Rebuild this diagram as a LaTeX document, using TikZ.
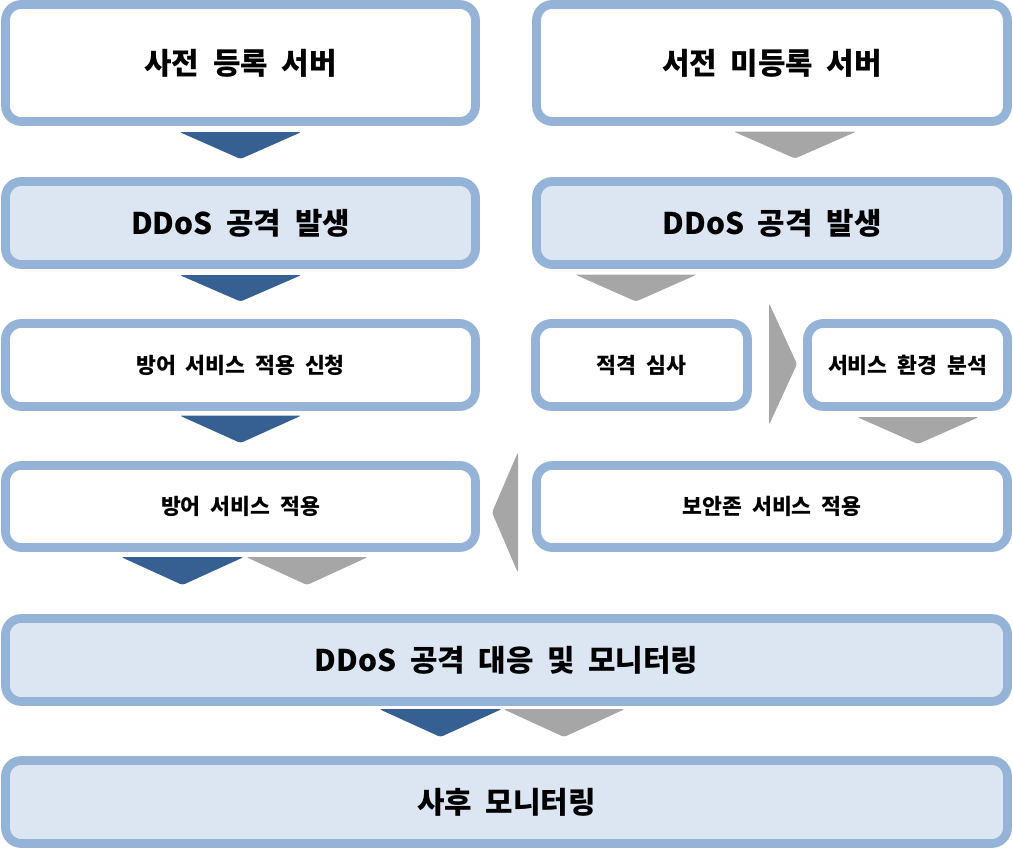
\documentclass[tikz,border=0pt]{standalone}
\usepackage{fontspec}
\setmainfont{Noto Sans CJK KR}[WordSpace=2]
\usepackage{tikz}
\usetikzlibrary{positioning,calc}
\usepackage{xcolor}
\definecolor{boxline}{HTML}{95B3D7}
\definecolor{boxfill}{HTML}{DCE6F2}
\definecolor{arrdark}{HTML}{376092}
\definecolor{arrgray}{HTML}{A6A6A6}

\begin{document}
\begin{tikzpicture}[x=0.02cm, y=-0.02cm, font=\bfseries,
  stepbox/.style={draw=boxline, line width=5pt, rounded corners=9pt, fill=white, outer sep=0pt, inner sep=0pt},
  shadebox/.style={stepbox, fill=boxfill},
  big/.style={font=\bfseries\fontsize{17}{20}\selectfont},
  small/.style={font=\bfseries\fontsize{12.3}{14}\selectfont},
  darkarr/.style={fill=arrdark, rounded corners=1.5pt},
  grayarr/.style={fill=arrgray, rounded corners=1.5pt}]
\useasboundingbox (0,0) rectangle (1013,848);
% left column: registered server
\node[stepbox, big, minimum width=470*0.02cm, minimum height=117*0.02cm] (reg) at (240.5,63) {사전 등록 서버};
\node[shadebox, big, minimum width=470*0.02cm, minimum height=83*0.02cm] (atkL) at (240.5,223) {DDoS 공격 발생};
\node[stepbox, small, minimum width=470*0.02cm, minimum height=83*0.02cm] (applyreq) at (240.5,365) {방어 서비스 적용 신청};
\node[stepbox, small, minimum width=470*0.02cm, minimum height=82*0.02cm] (apply) at (240.5,506.5) {방어 서비스 적용};
% right column: unregistered server
\node[stepbox, big, minimum width=471*0.02cm, minimum height=117*0.02cm] (unreg) at (772,63) {서전 미등록 서버};
\node[shadebox, big, minimum width=471*0.02cm, minimum height=83*0.02cm] (atkR) at (772,223) {DDoS 공격 발생};
\node[stepbox, small, minimum width=212*0.02cm, minimum height=83*0.02cm] (qual) at (641.5,365) {적격 심사};
\node[stepbox, small, minimum width=200*0.02cm, minimum height=83*0.02cm] (env) at (907.5,365) {서비스 환경 분석};
\node[stepbox, small, minimum width=471*0.02cm, minimum height=82*0.02cm] (zone) at (772,506.5) {보안존 서비스 적용};
% common steps
\node[shadebox, big, minimum width=1002*0.02cm, minimum height=83*0.02cm] (resp) at (506.5,660) {DDoS 공격 대응 및 모니터링};
\node[shadebox, big, minimum width=1002*0.02cm, minimum height=83*0.02cm] (post) at (506.5,802) {사후 모니터링};

% chevrons between steps
\fill[darkarr] ($(reg.south)+(-61,10.5)$) -- ++(122,0) -- ++(-61,27) -- cycle;
\fill[grayarr] ($(unreg.south)+(-38.5,10)$) -- ++(123,0) -- ++(-61.5,27) -- cycle;
\fill[darkarr] ($(atkL.south)+(-61,10.5)$) -- ++(122,0) -- ++(-61,26.5) -- cycle;
\fill[grayarr] ($(atkR.south)+(-197,10)$) -- ++(122,0) -- ++(-61,27) -- cycle;
\fill[darkarr] ($(applyreq.south)+(-61,9)$) -- ++(122,0) -- ++(-61,27.5) -- cycle;
\fill[grayarr] ($(qual.east)+(21.5,-62)$) -- ++(0,122) -- ++(28,-61) -- cycle;
\fill[grayarr] ($(env.south)+(-50.5,10.5)$) -- ++(122,0) -- ++(-61,27) -- cycle;
\fill[grayarr] ($(zone.west)+(-18.5,-54.5)$) -- ++(0,121) -- ++(-26,-60.5) -- cycle;
\fill[darkarr] ($(apply.south)+(-119.5,9.5)$) -- ++(123,0) -- ++(-61.5,28) -- cycle;
\fill[grayarr] ($(apply.south)+(5.5,9.5)$) -- ++(122,0) -- ++(-61,28) -- cycle;
\fill[darkarr] ($(resp.south)+(-127.5,7.5)$) -- ++(123,0) -- ++(-61.5,28) -- cycle;
\fill[grayarr] ($(resp.south)+(-3.5,7.5)$) -- ++(122,0) -- ++(-61,28) -- cycle;
\end{tikzpicture}
\end{document}
